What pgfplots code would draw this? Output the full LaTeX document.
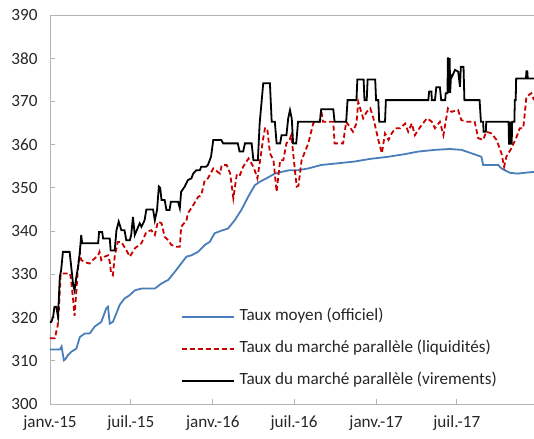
\documentclass[border=0pt]{standalone}
\usepackage{fontspec}
\setmainfont{Carlito}
\usepackage{pgfplots}
\pgfplotsset{compat=1.18}
\definecolor{offblue}{HTML}{4A7EBB}
\definecolor{parred}{HTML}{C80000}
\definecolor{axgray}{HTML}{B4B4B4}
\begin{document}
\begin{tikzpicture}
\path[use as bounding box] (-50bp,-35bp) rectangle (484bp,404bp);
\begin{axis}[
  scale only axis, width=484bp, height=389bp,
  xmin=0, xmax=1085, ymin=300, ymax=390,
  axis x line*=bottom, axis y line*=left,
  axis line style={draw=axgray, line width=0.8bp},
  ytick={300,310,...,390},
  xtick={0,181,365,547,731,912},
  xticklabels={janv.-15,juil.-15,janv.-16,juil.-16,janv.-17,juil.-17},
  tick align=inside, major tick length=5bp,
  tick style={draw=axgray, line width=0.8bp},
  ticklabel style={font=\fontsize{17.2}{20}\selectfont, text=black!85},
  /pgf/number format/assume math mode=true,
  yticklabel style={xshift=-9bp},
  xticklabel style={yshift=-8bp},
  extra y ticks={390}, extra y tick labels={},
  extra y tick style={grid=major, major grid style={draw=axgray, line width=0.8bp}},
  legend cell align=left,
  legend image code/.code={\draw[#1] (0bp,0bp) -- (52bp,0bp);},
  legend style={draw=none, fill=none, at={(0.2707,0.142)}, anchor=west,
    inner xsep=0pt, inner ysep=0pt, row sep=15bp, column sep=4.5bp,
    font=\fontsize{17.2}{20}\selectfont, text=black!85,
    nodes={inner sep=0pt, text height=12.5bp, text depth=4.5bp}},
]
\addplot[offblue, line width=1.8bp] coordinates {
(0,312.6)(22,312.6)(26,313.3)(31,310.1)(34,310.3)(40,311.3)(48,312.1)(59,312.8)(67,315.5)(78,316.3)(89,316.3)(100,317.9)(115,319.0)(126,322.1)(130,322.5)(134,318.6)(141,319.0)(149,321.0)(156,322.9)(167,324.4)(179,325.2)(190,326.3)(205,326.7)(235,326.7)(250,327.9)(265,328.7)(280,330.6)(294,332.5)(306,334.1)(317,334.4)(332,335.2)(347,336.8)(358,337.5)(369,339.5)(384,340.1)(399,340.6)(414,342.5)(429,344.9)(444,347.9)(459,350.6)(470,351.4)(485,352.2)(504,353.3)(519,353.7)(537,354.1)(557,354.1)(579,354.5)(608,355.3)(646,355.7)(683,356.1)(717,356.7)(758,357.2)(795,357.8)(825,358.4)(863,358.8)(896,359.0)(922,358.8)(945,358.0)(967,357.2)(971,355.3)(1005,355.3)(1012,354.5)(1031,353.5)(1049,353.3)(1064,353.5)(1085,353.7)
};
\addlegendentry{Taux moyen (officiel)}
\addplot[parred, line width=1.8bp, dash pattern=on 5bp off 3bp] coordinates {
(0,315.2)(11,315.2)(14,316.7)(17,318)(20,322)(24,330.2)(45,330.2)(48,328)(52,324)(55,320.4)(59,326)(63,332)(67,335.2)(70,333.3)(78,332.8)(89,332.5)(96,333.3)(108,334.4)(111,335.2)(115,333.3)(123,334.1)(130,334.4)(134,332.9)(137,330.2)(141,329.8)(145,334.1)(152,337.5)(160,337.5)(171,335.6)(179,334.1)(190,336)(205,337.2)(216,339.8)(227,340.2)(235,339.1)(242,342.2)(250,341.8)(257,338.7)(265,337.9)(272,336.8)(283,336.4)(291,336.4)(294,341.0)(306,342.5)(309,344.1)(321,346)(332,347.9)(339,348.3)(347,351.8)(354,352.2)(366,354.5)(381,353.3)(385,355.3)(396,355.3)(404,353.3)(411,347.6)(419,353.3)(426,353)(433,354.9)(445,356.8)(456,354.9)(465,352.2)(471,356.4)(478,361.5)(482,363.8)(487,363.8)(493,358)(501,356.4)(508,349.1)(516,356.4)(523,356.4)(530,360.3)(537,361.1)(541,362.2)(549,354.1)(553,350.3)(557,350.5)(564,356.4)(579,360.3)(590,364.9)(594,365.3)(605,365.3)(608,368)(612,365.3)(635,365.3)(638,360.3)(657,360.3)(664,365.3)(672,364.1)(679,363)(687,364.9)(691,369.9)(702,366.1)(710,367.6)(718,368.4)(725,366.1)(736,361.1)(744,358.0)(751,362.6)(759,361.1)(766,362.6)(774,363.8)(785,363.8)(796,364.9)(803,363)(811,364.9)(818,362.2)(830,364.1)(845,366.1)(856,365.3)(863,363.8)(874,365.3)(882,362.2)(892,368.4)(900,367.6)(915,368)(922,365.7)(933,365.3)(952,365.3)(960,361.5)(971,361.1)(978,363)(990,362.6)(1001,361.1)(1012,358)(1018,354.9)(1023,357.2)(1034,359.1)(1046,361.8)(1053,363.8)(1061,363.8)(1068,371.1)(1079,371.9)(1085,370.3)
};
\addlegendentry{Taux du marché parallèle (liquidités)}
\addplot[black, line width=1.8bp] coordinates {
(0,319.0)(3,319.0)(7,320.2)(10,322.5)(14,322.5)(18,320.2)(22,329.4)(25,331.0)(29,335.2)(44,335.2)(52,327.5)(55,326.3)(59,329.4)(63,331.7)(67,335.2)(70,339.1)(72,337.2)(108,337.2)(110,339.8)(117,339.8)(119,338.3)(134,338.3)(136,335.5)(145,335.5)(149,340.2)(154,342.2)(160,340.2)(167,340.2)(171,337.9)(179,337.9)(182,339.1)(186,343.3)(190,339.1)(201,341.8)(205,341)(212,342.5)(216,345)(231,345)(235,342.5)(240,344.9)(244,350.3)(247,350)(250,347.2)(257,347.2)(261,344.9)(268,344.9)(271,346.8)(287,346.8)(291,345.3)(294,349.1)(302,350.3)(309,351.8)(317,352.2)(321,353.3)(328,354.1)(336,354.1)(339,354.9)(350,354.9)(354,355.3)(361,357.2)(366,361.1)(384,361.1)(388,360.3)(421,360.3)(425,358.4)(433,358.4)(437,360.3)(452,360.3)(456,356.4)(466,356.4)(470,364.9)(478,374.2)(493,374.2)(497,365.3)(504,365.3)(508,360.3)(516,360.3)(519,362.2)(530,362.2)(534,366.1)(538,368)(542,366)(545,360.3)(552,360.3)(556,365.3)(605,365.3)(608,368.2)(635,368.2)(638,365.3)(664,365.3)(667,370.3)(687,370.3)(689,375.1)(703,375.1)(705,370.3)(710,370.3)(712,375.1)(729,375.1)(731,370.3)(736,370.3)(738,365.3)(751,365.3)(753,370.3)(848,370.3)(850,372.3)(855,372.3)(856,370.3)(863,370.3)(866,373.3)(874,373.3)(877,370.3)(886,370.3)(887,371.9)(891,371.9)(892,380.2)(894,372)(896,380)(897,372)(899,376)(901,375.7)(908,377.3)(915,376.9)(919,373.4)(921,378)(927,378)(929,370.3)(963,370.3)(966,365.3)(971,365.3)(972,363)(977,363)(978,365.3)(1028,365.3)(1029,360)(1030,365.3)(1031,360)(1032,365.3)(1033,360)(1034,365.3)(1035,360)(1036,365.3)(1041,365.3)(1042,370.3)(1044,370.3)(1045,375.3)(1067,375.3)(1068,377)(1070,377)(1071,375.3)(1085,375.3)
};
\addlegendentry{Taux du marché parallèle (virements)}
\end{axis}
\end{tikzpicture}
\end{document}
